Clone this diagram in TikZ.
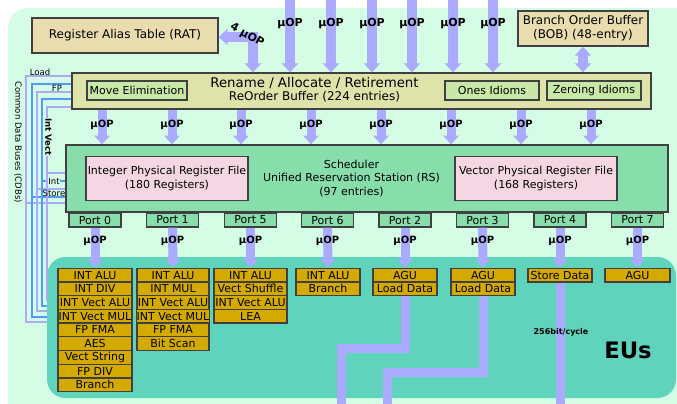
\documentclass[tikz,border=0pt]{standalone}
\usepackage{fontspec}
\setmainfont{DejaVu Sans}
\usetikzlibrary{arrows.meta}

\definecolor{mint}{HTML}{D5FDE5}
\definecolor{tanbox}{HTML}{E9DDAF}
\definecolor{renbox}{HTML}{DEE3AA}
\definecolor{idbox}{HTML}{C8E8A8}
\definecolor{schbox}{HTML}{87DEAA}
\definecolor{prfbox}{HTML}{F4D7E3}
\definecolor{euarea}{HTML}{5FD3BC}
\definecolor{unitbox}{HTML}{D4AA00}
\definecolor{uopcol}{HTML}{AAAAFF}
\definecolor{cdbblue}{HTML}{5599FF}

\newcommand{\ftiny}{\fontsize{6.4}{7}\selectfont}
\newcommand{\fsmall}{\fontsize{8.25}{10}\selectfont}
\newcommand{\fmed}{\fontsize{9}{10.5}\selectfont}
\newcommand{\fbig}{\fontsize{10}{12}\selectfont}

\tikzset{
  sz/.style 2 args={minimum width=#1*0.75pt, minimum height=#2*0.75pt},
  box/.style={draw=black!75, line width=1pt, inner sep=0pt, align=center},
  unit/.style={box, fill=unitbox, font=\fsmall},
  port/.style={box, fill=schbox, sz={52}{14}, font=\fsmall},
  uop/.style={draw=uopcol, line width=7.5pt, -{Triangle[length=6.75pt,width=12pt]}},
  uopd/.style={draw=uopcol, line width=7pt, {Triangle[length=6.75pt,width=12pt]}-{Triangle[length=6.75pt,width=12pt]}},
  uops/.style={draw=uopcol, line width=6.75pt, -{Triangle[length=6.5pt,width=11.5pt]}},
  bus/.style={draw=uopcol, line width=6.75pt},
  uoplbl/.style={font=\fsmall\bfseries},
  uoplbls/.style={font=\fontsize{7.5}{9}\selectfont\bfseries},
  cdbp/.style={draw=uopcol, line width=1.5pt},
  cdbb/.style={draw=cdbblue, line width=1.5pt},
  cdblbl/.style={font=\ftiny, inner sep=0.5pt},
}

\begin{document}
\begin{tikzpicture}[x=0.75pt, y=-0.75pt]
\useasboundingbox (0,0) rectangle (677,403);
\clip (0,0) rectangle (677,403);
\fill[white] (0,0) rectangle (677,403);

% Background
\fill[mint, rounded corners=15pt] (8,8) rectangle (720,440);
\node[fill=euarea, rounded corners=14pt, sz={629}{141}, inner sep=0pt] (eu) at (361.5,327.5) {};

% Front end
\node[box, fill=tanbox, sz={186}{35}, font=\fmed] (rat) at (125,35.5) {Register Alias Table (RAT)};
\node[box, fill=tanbox, sz={130}{35}, font=\fmed] (bob) at (583,28.5) {Branch Order Buffer\\(BOB) (48-entry)};
\node[box, fill=renbox, sz={579}{36}] (ren) at (361.5,91) {};
\node[font=\fbig, inner sep=0pt] (renl1) at (314.5,83.5) {Rename / Allocate / Retirement};
\node[font=\fmed, inner sep=0pt] (renl2) at (314.5,97) {ReOrder Buffer (224 entries)};
\node[box, fill=idbox, sz={100}{19}, font=\fsmall] (mov) at (137,90.5) {Move Elimination};
\node[box, fill=idbox, sz={94}{19}, font=\fsmall] (ones) at (492,90.5) {Ones Idioms};
\node[box, fill=idbox, sz={94}{19}, font=\fsmall] (zero) at (594,90.5) {Zeroing Idioms};

% Scheduler
\node[box, fill=schbox, sz={602}{67}] (sch) at (367,178.5) {};
\node[font=\fsmall, align=center] (schlbl) at (351.5,178.5) {Scheduler\\Unified Reservation Station (RS)\\(97 entries)};
\node[box, fill=prfbox, sz={162}{44}, font=\fsmall] (iprf) at (167,178.5) {Integer Physical Register File\\(180 Registers)};
\node[box, fill=prfbox, sz={162}{44}, font=\fsmall] (vprf) at (536,178.5) {Vector Physical Register File\\(168 Registers)};

% Ports
\foreach \c/\cx/\pn in {0/95/0, 1/172.5/1, 2/250.5/5, 3/327.5/6, 4/405/2, 5/482.5/3, 6/560/4, 7/637.5/7}
  \node[port] (p\c) at (\cx,220) {Port \pn};

% Execution units
\foreach \c/\cx/\w/\lst in {
    0/95/74/{INT ALU,INT DIV,INT Vect ALU,INT Vect MUL,FP FMA,AES,Vect String,FP DIV,Branch},
    1/173/72/{INT ALU,INT MUL,INT Vect ALU,INT Vect MUL,FP FMA,Bit Scan},
    2/250.5/73/{INT ALU,Vect Shuffle,INT Vect ALU,LEA},
    3/328/64/{INT ALU,Branch},
    4/405/64/{AGU,Load Data},
    5/483/64/{AGU,Load Data},
    6/560/64/{Store Data},
    7/637.5/65/{AGU}}
  \foreach \t [count=\i] in \lst
    \node[unit, sz={\w}{13.7}] (e\c-\i) at (\cx,{261.45+13.7*\i}) {\t};

% Common data buses
\foreach \vx/\yt/\ys/\yb/\st in {26/76/203/322/cdbp, 31.5/83.5/197/316.5/cdbb, 36.5/91.5/189/311/cdbp, 41.5/99/181/305.5/cdbb, 46.5/106.5/173/300/cdbp}{
  \draw[\st] (ren.west |- 0,\yt) -| (\vx,\yb) -- (eu.west |- 0,\yb);
  \draw[\st] (\vx,\ys) -- (sch.west |- 0,\ys);
}
\node[cdblbl] (lload) at (40,72.5) {Load};
\node[cdblbl] (lfp) at (57,88.5) {FP};
\node[cdblbl, fill=mint, font=\ftiny\bfseries, rotate=-90] (lintv) at (48.5,137) {Int Vect};
\node[cdblbl, fill=mint] (lint) at (54,181) {Int};
\node[cdblbl] (lstore) at (54,193.5) {Store};
\node[cdblbl, rotate=-90] (lcdb) at (18,142) {Common Data Buses (CDBs)};

% uOP flow
\foreach \x in {290,331,372,412,453,493}{
  \coordinate (in\x) at (\x,0);
  \draw[uop] (in\x) -- (in\x |- ren.north);
  \node[uoplbl] (l\x) at (\x,24) {μOP};
}
\coordinate (c4) at (253,37);
\draw[uopd] (rat.east |- c4) -| (c4 |- ren.north);
\node[uoplbl, rotate=-30] (l4) at (247,35) {4 μOP};
\draw[uopd] (bob.south) -- (bob.south |- ren.north);

\foreach \x in {102,172,241,311,381,451,521,591}{
  \draw[uops] (ren.south -| \x,0) -- (sch.north -| \x,0);
  \node[uoplbls] (m\x) at (\x,125) {μOP};
}
\foreach \c in {0,...,7}{
  \draw[uops] (p\c.south) -- (e\c-1.north);
  \node[uoplbls] (pl\c) at (p\c.south |- 0,241) {μOP};
}

% Load / store data paths
\coordinate (ld1) at (341,405);
\coordinate (ld2) at (387,405);
\draw[bus] (e4-2.south) |- (341,348) -- (ld1);
\draw[bus] (e5-2.south) |- (387,372) -- (ld2);
\draw[bus] (e6-1.south) -- (e6-1.south |- ld1);
\node[font=\fontsize{6}{7}\selectfont\bfseries] (bw) at (561,332) {256bit/cycle};
\node[font=\fontsize{17}{20}\selectfont\bfseries] (eus) at (628,350) {EUs};

\end{tikzpicture}
\end{document}
